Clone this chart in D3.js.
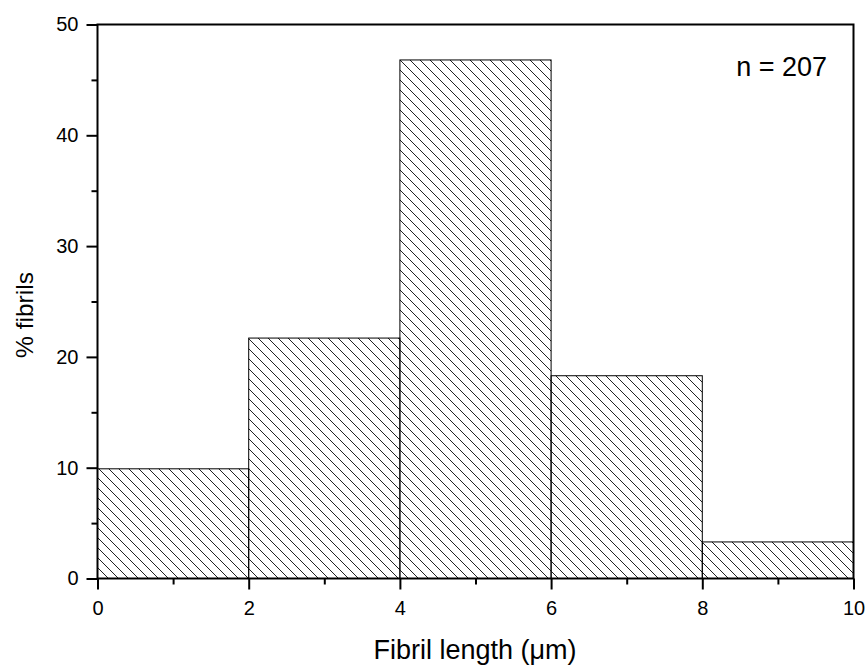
<!DOCTYPE html>
<html><head><meta charset="utf-8">
<script src="https://cdn.jsdelivr.net/npm/d3@7"></script>
<style>body{margin:0;background:#fff}svg{display:block}text{font-family:"Liberation Sans",Arial,sans-serif;fill:#000}</style>
</head><body><svg id="c" width="867" height="668"></svg>
<script>
const binStarts = [0, 2, 4, 6, 8];
const binWidth = 2;
const percents = [9.9, 21.7, 46.8, 18.3, 3.3];
const xTicks = [0, 2, 4, 6, 8, 10];
const yTicks = [0, 10, 20, 30, 40, 50];

const svg = d3.select("#c");
const m = {l: 97.5, r: 853.5, t: 24.5, b: 578.5};
const x = d3.scaleLinear().domain([0, 10]).range([m.l, m.r]);
const y = d3.scaleLinear().domain([0, 50]).range([m.b, m.t]);

const defs = svg.append("defs");
const pat = defs.append("pattern").attr("id","hatch").attr("patternUnits","userSpaceOnUse")
  .attr("width",10).attr("height",10);
pat.append("path").attr("d","M-1,-1 L11,11 M-1,9 L1,11 M9,-1 L11,1").attr("stroke","#222").attr("stroke-width",1);

svg.selectAll("rect.bar").data(percents).join("rect").attr("class","bar")
  .attr("x",(d,i)=>x(binStarts[i])).attr("width",(d,i)=>x(binStarts[i]+binWidth)-x(binStarts[i]))
  .attr("y",d=>y(d)).attr("height",d=>y(0)-y(d))
  .attr("fill","url(#hatch)").attr("stroke","#000").attr("stroke-width",1);

// frame
svg.append("rect").attr("x",m.l).attr("y",m.t).attr("width",m.r-m.l).attr("height",m.b-m.t)
  .attr("fill","none").attr("stroke","#000").attr("stroke-width",2);

// x axis
const gx = svg.append("g").attr("transform",`translate(0,${m.b})`);
gx.call(d3.axisBottom(x).tickValues(d3.range(1,10,2)).tickSize(6).tickFormat(""));
gx.call(g=>g.select(".domain").remove());
const gx2 = svg.append("g").attr("transform",`translate(0,${m.b})`);
gx2.call(d3.axisBottom(x).tickValues(xTicks).tickSize(11).tickPadding(11).tickFormat(d3.format("d")));
gx2.select(".domain").remove();
gx2.selectAll("text").attr("font-size",20).attr("font-family","Liberation Sans, Arial, sans-serif");

// y axis
const gy = svg.append("g").attr("transform",`translate(${m.l},0)`);
gy.call(d3.axisLeft(y).tickValues(d3.range(5,50,10)).tickSize(6).tickFormat(""));
gy.select(".domain").remove();
const gy2 = svg.append("g").attr("transform",`translate(${m.l},0)`);
gy2.call(d3.axisLeft(y).tickValues(yTicks).tickSize(11).tickPadding(8).tickFormat(d3.format("d")));
gy2.select(".domain").remove();
gy2.selectAll("text").attr("font-size",20).attr("font-family","Liberation Sans, Arial, sans-serif");
svg.selectAll(".tick line").attr("stroke-width",2);

svg.append("text").attr("x",475).attr("y",659).attr("text-anchor","middle")
  .attr("font-size",27).text("Fibril length (\u03bcm)");
svg.append("text").attr("transform",`translate(33,315) rotate(-90)`).attr("text-anchor","middle")
  .attr("font-size",24.5).text("% fibrils");
svg.append("text").attr("x",827).attr("y",76).attr("text-anchor","end").attr("font-size",27).text("n = 207");
</script></body></html>
